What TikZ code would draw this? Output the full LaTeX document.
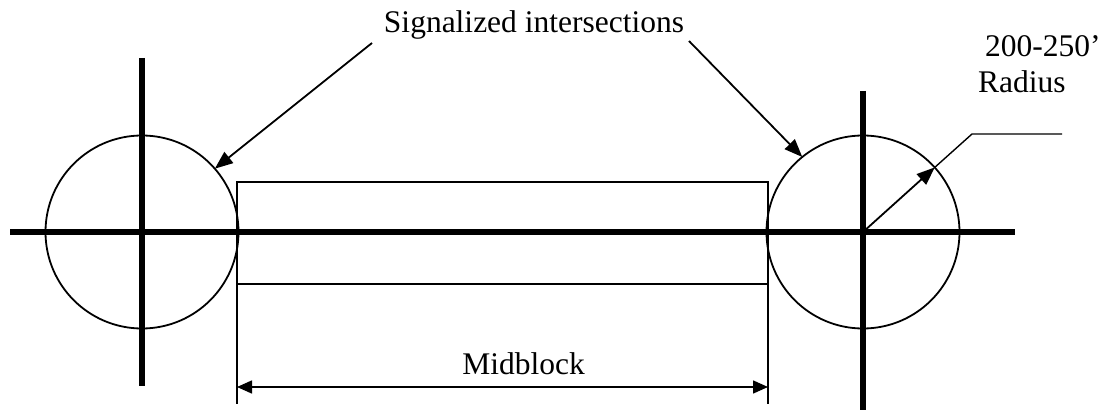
\documentclass[tikz,border=0pt]{standalone}
\usepackage{fontspec}
\setmainfont{Liberation Serif}
\usetikzlibrary{arrows.meta}
\begin{document}
\begin{tikzpicture}[x=1pt,y=1pt,
  road/.style={line width=5.5pt},
  ring/.style={circle,draw,line width=1.8pt,minimum size=193pt,inner sep=0pt,outer sep=0pt},
  thinline/.style={line width=1.4pt},
  pointer/.style={line width=1.8pt,-{Triangle[length=18pt,width=14pt]}},
  dimline/.style={line width=1.6pt,{Triangle[length=15pt,width=13pt]}-{Triangle[length=15pt,width=13pt]}},
  lbl/.style={font=\fontsize{31.5}{36}\selectfont,inner sep=0pt}]
\useasboundingbox (0,0) rectangle (1109,415);
% intersections
\node[ring] (lc) at (142,183) {};
\node[ring] (rc) at (863,183) {};
% roads
\coordinate (mainL) at (10,183);
\coordinate (mainR) at (1015,183);
\coordinate (lvT) at (142,357);
\coordinate (lvB) at (142,29);
\coordinate (rvT) at (863,324);
\coordinate (rvB) at (863,5);
\draw[road] (mainL) -- (mainR);
\draw[road] (lvT) -- (lvB);
\draw[road] (rvT) -- (rvB);
% midblock rectangle and extension lines
\coordinate (rTL) at (237,233);
\coordinate (rBR) at (768,131);
\draw[thinline] (rTL) rectangle (rBR);
\coordinate (tLB) at (237,11);
\coordinate (tRB) at (768,11);
\draw[thinline] (rTL) -- (tLB);
\draw[thinline] (768,233) -- (tRB);
\coordinate (dl) at (237,28);
\coordinate (dr) at (768,28);
\draw[dimline] (dl) -- (dr);
\node[lbl,anchor=base] (mid) at (523.5,40) {Midblock};
% signalized intersections label
\node[lbl,anchor=base] (sig) at (534,382) {Signalized intersections};
\coordinate (sL) at (372,372);
\coordinate (sR) at (689,374);
\draw[pointer] (sL) -- (lc.41);
\draw[pointer] (sR) -- (rc.129);
% radius
\node[lbl,anchor=base west] (rad1) at (985,358) {200-250’};
\node[lbl,anchor=base west] (rad2) at (978,322) {Radius};
\coordinate (rk) at (972,281);
\coordinate (rend) at (1062,281);
\draw[pointer] (rc.center) -- (rc.42);
\draw[thinline] (rc.42) -- (rk) -- (rend);
\end{tikzpicture}
\end{document}
